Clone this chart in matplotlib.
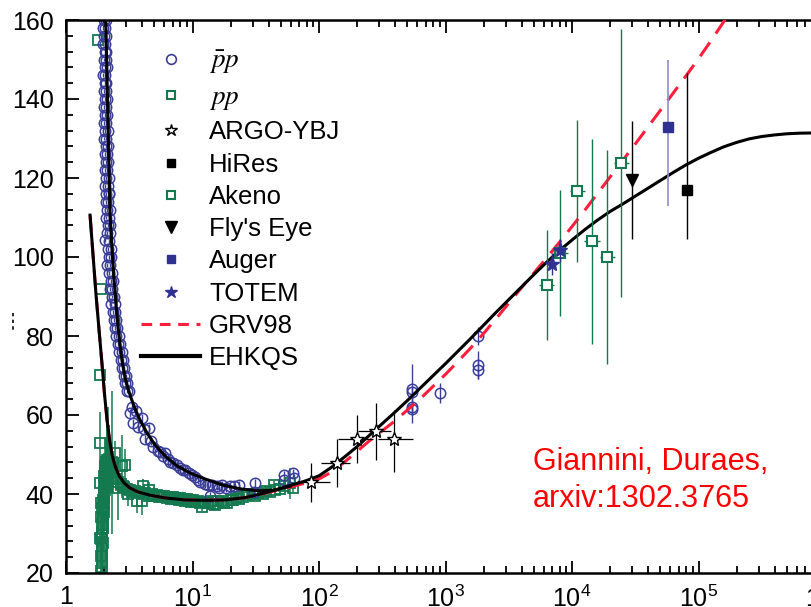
import numpy as np
import matplotlib
matplotlib.use('Agg')
import matplotlib.pyplot as plt
from matplotlib.lines import Line2D
from matplotlib.ticker import FuncFormatter, MultipleLocator, LogLocator, NullFormatter

plt.rcParams['font.family'] = ['Liberation Sans', 'DejaVu Sans']
plt.rcParams['mathtext.fontset'] = 'stix'

# ---- data (sqrt(s) in GeV, sigma in mb) ----
# pbar-p: low energy column, ISR region, collider points
pbar_E = [2.00, 2.07, 1.96, 2.04, 2.01, 2.08, 1.97, 2.05, 2.02, 2.09, 1.98, 2.06, 2.03, 2.10,
          1.97, 2.05, 2.02, 2.09, 1.98, 2.06, 2.03, 2.11, 1.99, 2.07, 2.04, 2.12, 2.00, 2.08,
          2.05, 2.13, 2.01, 2.09, 2.06, 2.14, 2.02, 2.10, 2.07, 2.15, 2.03, 2.12, 2.08, 2.17,
          2.04, 2.14, 2.20, 2.09, 2.18, 2.06, 2.15, 2.11, 2.21, 2.08, 2.18, 2.14, 2.24, 2.10,
          2.21, 2.05, 2.17, 2.13, 2.25, 2.18, 2.28, 2.12, 2.24, 2.20, 2.31, 2.26, 2.35, 2.22,
          2.33, 2.30, 2.39, 2.27, 2.42, 2.35, 2.46, 2.40, 2.50, 2.45, 2.55, 2.50, 2.62, 2.57,
          2.66, 2.63, 2.75, 2.70, 2.82, 2.78, 2.90, 2.86, 2.97, 2.93, 3.05, 3.02, 3.15,
          3.21, 3.41, 3.30, 3.60, 3.97, 3.70, 4.10, 4.49, 4.20, 4.91, 4.70, 5.30, 5.55, 5.80,
          6.08, 6.40, 6.66, 7.00, 7.52, 8.00, 8.40, 8.75, 9.30, 9.89, 10.5, 11.0, 11.5, 12.5,
          13.2, 13.8, 14.3, 15.5, 16.2, 17.1, 18.5, 19.9, 21.1, 23.2, 30.4, 31.4, 52.5, 53.0,
          62.7, 63.0,
          546, 546, 546, 546, 900, 1800, 1800, 1800]
pbar_sig = [160, 160, 158, 158, 156, 156, 154, 154, 152, 152, 150, 150, 148, 148,
            146, 146, 144, 144, 142, 142, 140, 140, 138, 138, 136, 136, 134, 134,
            132, 132, 130, 130, 128, 128, 126, 126, 124, 124, 122, 122, 120, 120,
            118, 118, 116.2, 116, 116, 114, 114, 112, 112, 110, 110, 108, 108, 106,
            106, 104.3, 104, 102, 102, 100, 100, 98, 98, 96, 96, 94, 94, 92,
            92, 90, 90, 88, 88, 86, 86, 84, 84, 82, 82, 80, 80, 78,
            78, 76, 76, 74, 74, 72, 72, 70, 70, 68, 68, 66, 66,
            60.4, 57.9, 62.0, 61.0, 59.2, 57.0, 56.5, 56.6, 54.0, 52.0, 53.5, 51.0, 50.7, 49.5,
            50.3, 48.8, 48.2, 47.8, 47.3, 46.6, 46.0, 46.1, 45.2, 44.8, 44.2, 43.6, 43.1, 42.5,
            42.3, 39.4, 42.3, 42.0, 41.6, 42.3, 41.5, 41.9, 42.0, 42.3, 40.6, 42.7, 44.8, 43.6,
            45.3, 44.0,
            66.5, 65.8, 62.0, 61.5, 65.5, 72.7, 71.5, 80.0]
pbar_err = [0.5] * 97 + [1.0] * 44 + [6.5, 1.5, 1.5, 3.5, 2.5, 3.5, 2.5, 2.2]

# p-p
pp_E = [1.80, 1.89, 1.86, 1.86, 1.86, 1.88, 1.88, 1.86, 1.89,
        1.90, 1.92, 1.91, 1.93, 1.92, 1.94, 1.93, 1.95, 1.90, 1.94, 1.92, 1.96, 1.93, 1.97,
        1.95, 1.98, 1.94, 1.99, 1.96, 2.00, 1.98, 2.02, 2.00, 2.04, 2.01, 2.06, 2.03, 2.08,
        2.05, 2.10, 2.07, 2.12, 2.09, 2.15, 2.12, 2.18, 2.15, 2.21, 2.19, 2.25, 2.10, 2.07,
        2.14, 2.30, 2.37, 2.44, 2.93, 2.60, 3.11, 3.63, 4.09, 4.49, 2.76, 4.00,
        2.25, 2.35, 2.50, 2.60, 2.70, 2.80, 2.90, 3.05, 3.20, 3.35, 3.50, 3.65, 3.80, 4.00,
        4.20, 4.50, 4.80, 5.00, 5.20, 5.40, 5.60, 5.80, 6.00, 6.30, 6.50, 6.80, 7.00, 7.30,
        7.50, 7.80, 8.00, 8.30, 8.50, 8.80, 9.00, 9.30, 9.50, 9.80, 10.0, 10.5, 11.0, 11.5,
        11.9, 12.5, 13.2, 14.0, 14.6, 15.1, 16.0, 17.0, 17.8, 18.7, 20.0, 21.0, 22.0, 23.5,
        25.0, 27.0, 30.0, 31.0, 33.0, 36.0, 38.0, 41.0, 44.0, 45.0, 49.0, 53.0, 59.0, 62.0]
pp_sig = [155, 92, 70.1, 52.8, 42.9, 37.7, 34.1, 28.9, 24.2,
          20.5, 21.5, 22.5, 23.5, 24.5, 25.5, 26.5, 27.5, 28.5, 29.5, 30.5, 31.5, 32.5, 33.5,
          34.5, 35.5, 36.5, 37.5, 38.5, 39.5, 40.5, 41.5, 42.5, 43.5, 44.5, 45.0, 46.0, 46.5,
          47.0, 47.5, 48.0, 48.5, 47.0, 48.0, 46.5, 47.5, 45.5, 46.5, 45.0, 46.0, 44.0, 42.0,
          46.0, 48.0, 47.8, 50.3, 47.3, 41.4, 39.9, 38.2, 41.9, 41.1, 47.0, 38.2,
          45.5, 44.5, 43.8, 43.0, 42.6, 42.0, 41.8, 41.3, 41.0, 40.6, 40.8, 40.3, 40.5, 40.0,
          40.2, 39.6, 40.0, 39.4, 39.8, 39.3, 39.6, 39.2, 39.5, 39.0, 39.3, 38.8, 39.2, 38.7,
          39.0, 38.5, 38.9, 38.4, 38.8, 38.3, 38.7, 38.2, 38.6, 38.1, 38.5, 37.9, 38.3, 37.8,
          36.8, 38.0, 37.7, 38.2, 37.4, 37.2, 38.3, 38.2, 37.6, 37.7, 38.6, 38.4, 39.0, 38.8,
          39.3, 39.8, 40.0, 39.4, 40.2, 40.0, 40.8, 40.5, 42.3, 41.0, 41.2, 42.0, 42.7, 41.5]
pp_err = [0, 0, 0, 8, 5, 3, 3, 2, 2,
          1.5, 2, 2, 2, 3, 2, 3, 2, 3, 2, 3, 3, 4, 3,
          5, 4, 6, 5, 8, 6, 10, 5, 6, 4, 3, 6, 4, 8,
          5, 10, 6, 12, 5, 8, 6, 10, 5, 7, 4, 6, 4, 3,
          16, 18, 3, 3, 4, 8, 3, 3, 2, 2, 8, 3.5,
          4, 3, 3, 2, 2, 2, 2, 1.5, 1.5, 1.5, 1.5, 1, 1, 1,
          1, 1, 1, 1, 1, 1, 1, 1, 1, 1, 1, 1, 1, 1,
          1, 1, 1, 1, 1, 1, 1, 1, 1, 1, 1, 1, 1, 1,
          1, 1, 1, 1, 1, 1, 1, 1, 1, 1, 1, 1, 1, 1,
          1, 1, 1, 1, 1, 1, 1, 1, 1, 1, 1, 1, 4, 1]

# ARGO-YBJ
argo_E = [86, 139, 200, 280, 390]
argo_sig = [43.0, 47.9, 53.8, 56.0, 53.8]
argo_Elo = [67, 103, 142, 205, 295]
argo_Ehi = [123, 177, 265, 370, 550]
argo_siglo = [38.0, 41.8, 47.9, 48.6, 45.6]
argo_sighi = [47.9, 54.0, 60.0, 63.0, 61.3]

# Akeno
akeno_E = [6300, 8100, 11000, 14400, 19000, 24600]
akeno_sig = [92.9, 101, 116.7, 104, 100, 123.8]
akeno_err = [14, 16, 18, 26, 27, 34]

# single cosmic-ray / LHC points
flys_E, flys_sig, flys_err = [30000], [119.5], [15]
auger_E, auger_sig, auger_lo, auger_hi = [57000], [133], [20], [17]
hires_E, hires_sig, hires_lo, hires_hi = [81000], [117], [12.4], [29.6]
totem_E, totem_sig, totem_err = [7000, 8000], [98.3, 101.7], [2.8, 2.9]

# model curves
ehkqs_pbar_E = [2.062, 2.112, 2.170, 2.230, 2.313, 2.399, 2.489, 2.580, 2.677, 2.776,
                2.932, 3.097, 3.270, 3.518, 3.854, 4.378, 5.067, 6.079, 7.564, 9.590,
                12.61, 17.19, 23.86, 33.13, 45.17, 59.37]
ehkqs_pbar_sig = [160, 144.8, 127.1, 110.6, 101.8, 94.2, 87.8, 82.3, 77.7, 73.7,
                  69.4, 66.6, 64.3, 61.5, 58.7, 55.4, 52.4, 49.6, 47.1, 45.3,
                  43.8, 42.3, 41.3, 40.8, 41.0, 42.0]
ehkqs_pp_E = [1.549, 1.636, 1.728, 1.825, 1.928, 2.018, 2.112, 2.210, 2.313, 2.443,
              2.628, 2.879, 3.212, 3.716, 4.626, 6.079, 8.755, 12.61, 18.16, 26.15,
              37.64, 54.20, 78.06, 100, 126, 158, 200, 251, 316, 398, 501, 631, 794,
              1000, 1259, 1585, 1995, 2512, 3162, 3981, 5012, 6310, 7943, 10000, 12590,
              15850, 19950, 25120, 31620, 39810, 50120, 63100, 79430, 100000, 125900,
              158500, 199500, 251200, 316200, 398100, 501200, 631000, 794300, 1000000]
ehkqs_pp_sig = [110.6, 100.5, 90.4, 81.5, 72.7, 65.1, 58.7, 53.7, 49.9, 47.1,
                44.6, 42.8, 41.5, 40.5, 39.7, 39.0, 38.5, 38.4, 38.5, 39.1,
                40.3, 41.8, 43.3, 44.6, 46.8, 49.3, 52.0, 54.9, 57.8, 60.7, 63.7, 66.8, 69.9,
                73.0, 76.2, 79.4, 82.7, 86.0, 89.2, 92.4, 95.6, 98.7, 101.6, 104.3, 106.9,
                109.3, 111.5, 113.4, 115.4, 117.4, 119.4, 121.4, 123.3, 125.0, 126.5,
                127.9, 129.0, 129.9, 130.5, 130.9, 131.2, 131.35, 131.4, 131.4]
grv_E = [1.549, 1.636, 1.728, 1.825, 1.928, 2.018, 2.112, 2.210, 2.313, 2.443,
         2.628, 2.879, 3.212, 3.716, 4.626, 6.079, 8.755, 12.61, 18.16, 26.15,
         37.64, 50, 63, 79, 100, 126, 158, 200, 251, 316, 398, 501, 631, 794,
         1000, 1259, 1585, 1995, 2512, 3162, 3981, 5012, 6310, 7943, 10000, 12590,
         15850, 19950, 25120, 31620, 39810, 50120, 63100, 79430, 100000, 125900,
         158500, 199500]
grv_sig = [110.6, 100.5, 90.4, 81.5, 72.7, 65.1, 58.7, 53.7, 49.9, 47.1,
           44.6, 42.8, 41.5, 40.5, 39.7, 39.0, 38.5, 38.4, 38.5, 39.1,
           40.2, 41.2, 42.0, 42.8, 43.8, 45.6, 48.0, 50.8, 53.5, 56.0, 58.5, 61.3, 64.1,
           67.2, 70.3, 73.6, 77.0, 80.6, 84.4, 88.3, 92.2, 96.0, 99.8, 103.7, 107.7,
           111.8, 116.0, 120.2, 124.4, 128.6, 132.9, 137.2, 141.5, 145.8, 150.2,
           154.8, 159.6, 164.0]

blue = '#3b3e99'
green = '#13794f'
red = '#ff1f3d'

fig = plt.figure(figsize=(8.11, 6.07), dpi=100)
ax = fig.add_axes([66 / 811, 1 - 573 / 607, (825 - 66) / 811, (573 - 20) / 607])

# data
ax.errorbar(pp_E, pp_sig, yerr=pp_err, fmt='s', ms=6.5, mfc='none', mec=green, mew=1.3,
            ecolor=green, elinewidth=1.1, capsize=0, zorder=2)
ax.errorbar(pbar_E, pbar_sig, yerr=pbar_err, fmt='o', ms=7.5, mfc='none', mec=blue, mew=1.1,
            ecolor=blue, elinewidth=1.0, capsize=0, zorder=2)
ax.errorbar(akeno_E, akeno_sig, yerr=akeno_err,
            xerr=[np.array(akeno_E) * 0.13, np.array(akeno_E) * 0.15],
            fmt='s', ms=7, mfc='white', mec=green, mew=1.5, ecolor=green, elinewidth=1.0,
            capsize=0, zorder=4)
argo_xerr = [np.array(argo_E) - np.array(argo_Elo), np.array(argo_Ehi) - np.array(argo_E)]
argo_yerr = [np.array(argo_sig) - np.array(argo_siglo), np.array(argo_sighi) - np.array(argo_sig)]
ax.errorbar(argo_E, argo_sig, xerr=argo_xerr, yerr=argo_yerr, fmt='*', ms=10, mfc='white',
            mec='black', mew=1.0, ecolor='black', elinewidth=0.9, capsize=0, zorder=4)
ax.errorbar(flys_E, flys_sig, yerr=flys_err, fmt='v', ms=9, color='black', elinewidth=1.0, zorder=4)
ax.errorbar(auger_E, auger_sig, yerr=[auger_lo, auger_hi], fmt='s', ms=7, color='#2e3192',
            ecolor='#8e8fc9', elinewidth=1.2, zorder=4)
ax.errorbar(hires_E, hires_sig, yerr=[hires_lo, hires_hi], fmt='s', ms=7, color='black',
            elinewidth=1.0, zorder=4)
ax.errorbar(totem_E, totem_sig, yerr=totem_err, fmt='*', ms=11, color='#2e3192',
            elinewidth=1.0, zorder=5)

# model curves
ax.plot(grv_E, grv_sig, color=red, lw=2.2, dashes=(5.5, 3.5), zorder=3)
ax.plot(ehkqs_pp_E, ehkqs_pp_sig, color='black', lw=2.2, zorder=3)
ax.plot(ehkqs_pbar_E, ehkqs_pbar_sig, color='black', lw=2.2, zorder=3)

# axes
ax.set_xscale('log')
ax.set_xlim(1, 1e6)
ax.set_ylim(20, 160)
ax.set_yticks(range(20, 161, 20))
ax.yaxis.set_minor_locator(MultipleLocator(4))
ax.xaxis.set_minor_locator(LogLocator(base=10, subs=np.arange(2, 10)))
ax.xaxis.set_minor_formatter(NullFormatter())
ax.xaxis.set_major_formatter(FuncFormatter(
    lambda v, pos: '1' if v == 1 else r'$\mathregular{10^{%d}}$' % round(np.log10(v))))
ax.tick_params(which='both', direction='in', top=True, right=False, width=1.3,
               labelsize=18, colors='black')
ax.tick_params(which='major', length=9, pad=9)
ax.tick_params(which='minor', length=5)
for s in ['left', 'top', 'bottom']:
    ax.spines[s].set_linewidth(1.8)
ax.spines['right'].set_visible(False)

# legend
handles = [
    Line2D([], [], ls='none', marker='o', ms=7, mfc='none', mec=blue, mew=1.2),
    Line2D([], [], ls='none', marker='s', ms=6, mfc='none', mec=green, mew=1.5),
    Line2D([], [], ls='none', marker='*', ms=9, mfc='white', mec='black', mew=1.0),
    Line2D([], [], ls='none', marker='s', ms=6, color='black'),
    Line2D([], [], ls='none', marker='s', ms=6, mfc='white', mec=green, mew=1.5),
    Line2D([], [], ls='none', marker='v', ms=8, color='black'),
    Line2D([], [], ls='none', marker='s', ms=6, color='#2e3192'),
    Line2D([], [], ls='none', marker='*', ms=9, color='#2e3192'),
    Line2D([], [], color=red, lw=2.2, dashes=(3.5, 2.5)),
    Line2D([], [], color='black', lw=3),
]
labels = [r'$\bar{p}p$', r'$pp$', 'ARGO-YBJ', 'HiRes', 'Akeno', "Fly's Eye",
          'Auger', 'TOTEM', 'GRV98', 'EHKQS']
leg = ax.legend(handles, labels, loc='upper left', bbox_to_anchor=(141 / 811, 1 - 48 / 607),
                bbox_transform=fig.transFigure, frameon=False, fontsize=18.5,
                handlelength=2.3, handletextpad=0.35, labelspacing=0.32,
                borderpad=0, borderaxespad=0)
for t in leg.get_texts()[:2]:
    t.set_fontsize(19.5)

fig.text(533 / 811, 1 - 470 / 607, 'Giannini, Duraes,', color='#ff0000', fontsize=22,
         ha='left', va='baseline')
fig.text(533 / 811, 1 - 507 / 607, 'arxiv:1302.3765', color='#ff0000', fontsize=22,
         ha='left', va='baseline')

# small dotted remnant left of the y axis
fig.add_artist(Line2D([13 / 811, 13 / 811], [1 - 313 / 607, 1 - 333 / 607],
                      color='black', lw=1.2, ls=(0, (2, 2))))

fig.savefig('out.png', dpi=100)
